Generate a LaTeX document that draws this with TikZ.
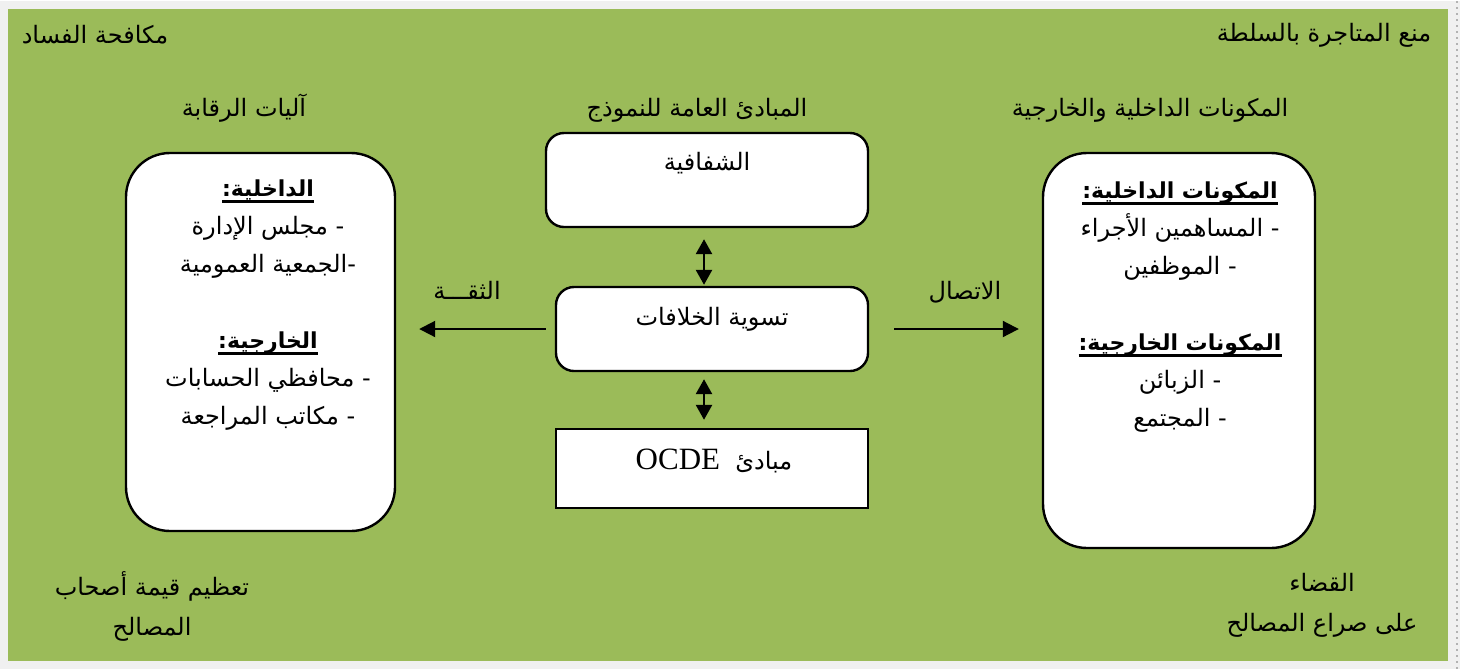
\documentclass[tikz,border=0pt]{standalone}
\usepackage{fontspec}
\usetikzlibrary{arrows.meta}
\TeXXeTstate=1
\newfontfamily\arabicfont[Script=Arabic]{DejaVu Sans}
\newfontfamily\latinserif{Liberation Serif}
% right-to-left run of Arabic words
\newcommand\rtl[1]{\beginR #1\endR}
% bold heading with a thick rule underneath
\newcommand\hdr[1]{\setbox0\hbox{\bfseries\fontsize{11}{19}\selectfont #1}\rlap{\rule[-3.6pt]{\wd0}{1.5pt}}\box0}
\definecolor{panelgreen}{HTML}{9BBB59}
\definecolor{pagegray}{HTML}{F0F0F0}
\begin{document}
\begin{tikzpicture}[x=0.5pt,y=-0.5pt,
  txt/.style={font=\arabicfont\fontsize{12}{19}\selectfont, inner sep=0pt, align=center},
  box/.style={draw=black, line width=1.2pt, fill=white, inner sep=0pt},
  conn/.style={line width=1pt, -{Triangle[length=8pt,width=8pt]}},
  dbl/.style={line width=1.3pt, {Triangle[length=7.5pt,width=8pt]}-{Triangle[length=7.5pt,width=8pt]}},
]
% page and panel
\fill[pagegray] (0,0) rectangle (1460,668);
\fill[panelgreen] (8,8) rectangle (1448,660);
\draw[gray!60, line width=1pt, dotted] (1457,0) -- (1457,668);

% corner captions
\node[txt, anchor=base] (anti) at (95,42) {\rtl{مكافحة الفساد}};
\node[txt, anchor=base] (abuse) at (1324,40) {\rtl{منع المتاجرة بالسلطة}};
\node[txt, anchor=north, font=\arabicfont\fontsize{12}{20}\selectfont] (value) at (152,570) {\rtl{تعظيم قيمة أصحاب}\\\rtl{المصالح}};
\node[txt, anchor=north, font=\arabicfont\fontsize{12}{20}\selectfont] (conflict) at (1322,572) {\rtl{القضاء}\\\rtl{على صراع المصالح}};

% column titles
\node[txt, anchor=base] (ttlL) at (244,115) {\rtl{آليات الرقابة}};
\node[txt, anchor=base] (ttlC) at (697,115) {\rtl{المبادئ العامة للنموذج}};
\node[txt, anchor=base] (ttlR) at (1150,115) {\rtl{المكونات الداخلية والخارجية}};

% side boxes
\node[box, rounded corners=22pt, minimum width=134.5pt, minimum height=189pt] (ctrl) at (260.5,341) {};
\node[box, rounded corners=22pt, minimum width=136pt, minimum height=197.5pt] (comp) at (1179,349.5) {};
\node[txt, anchor=north] (ctrltext) at (268,178) {%
  \hdr{:\rtl{الداخلية}}\\
  \rtl{مجلس الإدارة}\ -\\
  \rtl{الجمعية العمومية}-\\[19pt]
  \hdr{:\rtl{الخارجية}}\\
  \rtl{محافظي الحسابات}\ -\\
  \rtl{مكاتب المراجعة}\ -};
\node[txt, anchor=north] (comptext) at (1180,180) {%
  \hdr{:\rtl{المكونات الداخلية}}\\
  \rtl{المساهمين الأجراء}\ -\\
  \rtl{الموظفين}\ -\\[19pt]
  \hdr{:\rtl{المكونات الخارجية}}\\
  \rtl{الزبائن}\ -\\
  \rtl{المجتمع}\ -};

% centre column
\node[box, rounded corners=9pt, minimum width=161pt, minimum height=47pt] (transp) at (707,179) {};
\node[txt, anchor=base] (transptext) at (707,169) {\rtl{الشفافية}};
\node[box, rounded corners=9pt, minimum width=156pt, minimum height=42pt] (settle) at (712,328) {};
\node[txt, anchor=base] (settletext) at (712,324) {\rtl{تسوية الخلافات}};
\node[box, minimum width=156pt, minimum height=39.5pt] (ocde) at (712,467.5) {};
\node[txt, anchor=base] (ocdetext) at (714,468) {{\latinserif\fontsize{15.5}{18}\selectfont OCDE}\ \ \rtl{مبادئ}};

% connectors
\draw[dbl, shorten <=5.5pt, shorten >=0.5pt] (transp.south -| 704,0) -- (settle.north -| 704,0);
\draw[dbl, shorten <=3.5pt, shorten >=4pt] (settle.south -| 704,0) -- (ocde.north -| 704,0);
\draw[conn, shorten <=4.5pt, shorten >=11.5pt] (settle.west) -- (settle.west -| ctrl.east);
\draw[conn, shorten <=12.5pt, shorten >=11.5pt] (settle.east) -- (settle.east -| comp.west);
\node[txt, anchor=base] (trust) at (467,298) {\rtl{الثقـــة}};
\node[txt, anchor=base] (comm) at (965,298) {\rtl{الاتصال}};
\end{tikzpicture}
\end{document}
